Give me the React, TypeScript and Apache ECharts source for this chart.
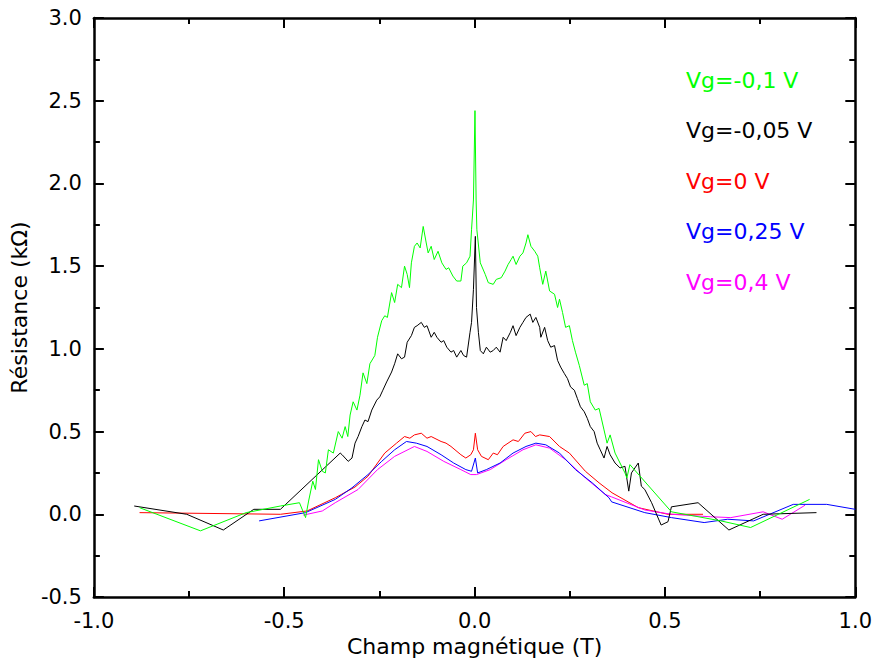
import React, { useEffect, useRef } from "react";
import * as echarts from "echarts";

// Series names and colours (legend order)
const seriesNames = ["Vg=-0,1 V", "Vg=-0,05 V", "Vg=0 V", "Vg=0,25 V", "Vg=0,4 V"];
const seriesColors = ["#00ff00", "#000000", "#ff0000", "#0000ff", "#ff00ff"];

// Axis ticks
const xTicks = [-1.0, -0.5, 0.0, 0.5, 1.0];
const yTicks = [-0.5, 0.0, 0.5, 1.0, 1.5, 2.0, 2.5, 3.0];

// Vg = -0,1 V  [B (T), R (kΩ)]
const vgM01: number[][] = [
  [-0.88, 0.04], [-0.72, -0.10], [-0.60, 0.01], [-0.51, 0.05], [-0.46, 0.07], [-0.444, -0.02],
  [-0.436, 0.08], [-0.425, 0.20], [-0.418, 0.15], [-0.41, 0.33], [-0.40, 0.26], [-0.392, 0.25],
  [-0.384, 0.39], [-0.371, 0.37], [-0.358, 0.50], [-0.348, 0.46], [-0.340, 0.53], [-0.333, 0.47],
  [-0.327, 0.60], [-0.319, 0.68], [-0.309, 0.63], [-0.301, 0.72], [-0.293, 0.855], [-0.283, 0.79],
  [-0.275, 0.91], [-0.262, 0.96], [-0.255, 1.07], [-0.244, 1.17], [-0.236, 1.20], [-0.229, 1.19],
  [-0.218, 1.34], [-0.210, 1.28], [-0.202, 1.39], [-0.192, 1.37], [-0.184, 1.50], [-0.177, 1.45],
  [-0.171, 1.37], [-0.166, 1.52], [-0.158, 1.62], [-0.151, 1.64], [-0.143, 1.61], [-0.135, 1.74],
  [-0.127, 1.64], [-0.122, 1.58], [-0.114, 1.62], [-0.106, 1.54], [-0.096, 1.59], [-0.086, 1.52],
  [-0.075, 1.48], [-0.068, 1.49], [-0.057, 1.44], [-0.047, 1.41], [-0.036, 1.41], [-0.031, 1.50],
  [-0.021, 1.52], [-0.012, 1.56], [-0.008, 1.72], [-0.003, 1.90], [0.001, 2.44], [0.004, 1.90],
  [0.006, 1.72], [0.015, 1.52], [0.028, 1.45], [0.036, 1.40], [0.049, 1.39], [0.057, 1.42],
  [0.070, 1.43], [0.080, 1.47], [0.088, 1.51], [0.096, 1.54], [0.101, 1.56], [0.109, 1.51],
  [0.119, 1.56], [0.127, 1.58], [0.135, 1.64], [0.140, 1.69], [0.148, 1.62], [0.158, 1.59],
  [0.166, 1.56], [0.171, 1.49], [0.179, 1.39], [0.187, 1.47], [0.197, 1.35], [0.210, 1.33],
  [0.218, 1.25], [0.223, 1.30], [0.231, 1.22], [0.239, 1.13], [0.249, 1.14], [0.257, 1.05],
  [0.265, 0.98], [0.275, 0.90], [0.288, 0.78], [0.296, 0.79], [0.304, 0.68], [0.317, 0.63],
  [0.327, 0.64], [0.340, 0.51], [0.348, 0.43], [0.356, 0.48], [0.369, 0.37], [0.382, 0.31],
  [0.395, 0.25], [0.400, 0.22], [0.408, 0.30], [0.517, 0.015], [0.647, -0.04], [0.725, -0.08],
  [0.88, 0.09],
];

// Vg = -0,05 V
const vgM005: number[][] = [
  [-0.894, 0.05], [-0.756, 0.0], [-0.66, -0.095], [-0.58, 0.03], [-0.51, 0.03], [-0.353, 0.37],
  [-0.348, 0.36], [-0.340, 0.34], [-0.332, 0.32], [-0.322, 0.34], [-0.314, 0.43], [-0.306, 0.47],
  [-0.296, 0.53], [-0.288, 0.57], [-0.280, 0.56], [-0.270, 0.63], [-0.257, 0.69], [-0.249, 0.71],
  [-0.241, 0.75], [-0.231, 0.80], [-0.218, 0.86], [-0.210, 0.91], [-0.202, 0.97], [-0.192, 0.94],
  [-0.184, 0.95], [-0.177, 1.04], [-0.166, 1.08], [-0.158, 1.13], [-0.151, 1.14], [-0.140, 1.16],
  [-0.132, 1.13], [-0.125, 1.14], [-0.114, 1.07], [-0.106, 1.10], [-0.099, 1.07], [-0.088, 1.04],
  [-0.081, 1.05], [-0.073, 1.01], [-0.062, 0.98], [-0.055, 0.99], [-0.047, 0.95], [-0.036, 0.99],
  [-0.029, 0.96], [-0.021, 0.95], [-0.012, 1.10], [-0.008, 1.16], [-0.003, 1.36], [0.002, 1.68],
  [0.005, 1.25], [0.010, 1.10], [0.015, 0.99], [0.023, 0.97], [0.031, 1.01], [0.041, 0.98],
  [0.049, 0.99], [0.057, 1.01], [0.067, 0.98], [0.075, 1.07], [0.083, 1.05], [0.094, 1.10],
  [0.101, 1.14], [0.109, 1.08], [0.119, 1.13], [0.127, 1.16], [0.135, 1.19], [0.146, 1.21],
  [0.153, 1.16], [0.161, 1.19], [0.171, 1.13], [0.174, 1.07], [0.184, 1.13], [0.192, 1.05],
  [0.200, 1.01], [0.210, 1.02], [0.218, 0.93], [0.226, 0.89], [0.236, 0.85], [0.244, 0.82],
  [0.252, 0.77], [0.262, 0.75], [0.270, 0.70], [0.278, 0.65], [0.288, 0.62], [0.296, 0.58],
  [0.304, 0.53], [0.314, 0.50], [0.322, 0.43], [0.330, 0.39], [0.340, 0.34], [0.348, 0.41],
  [0.356, 0.36], [0.369, 0.31], [0.382, 0.28], [0.395, 0.29], [0.405, 0.14], [0.412, 0.25],
  [0.418, 0.27], [0.430, 0.31], [0.438, 0.17], [0.447, 0.15], [0.465, 0.07], [0.490, -0.065],
  [0.508, -0.045], [0.517, 0.045], [0.587, 0.07], [0.668, -0.095], [0.758, 0.0], [0.898, 0.01],
];

// Vg = 0 V
const vg0: number[][] = [
  [-0.88, 0.01], [-0.51, 0.0], [-0.44, 0.02], [-0.366, 0.10], [-0.35, 0.12], [-0.314, 0.165],
  [-0.280, 0.23], [-0.236, 0.37], [-0.205, 0.43], [-0.184, 0.47], [-0.170, 0.46], [-0.158, 0.48],
  [-0.140, 0.49], [-0.125, 0.46], [-0.114, 0.47], [-0.088, 0.44], [-0.075, 0.43], [-0.062, 0.41],
  [-0.036, 0.36], [-0.023, 0.34], [-0.010, 0.36], [-0.003, 0.39], [0.002, 0.49], [0.008, 0.39],
  [0.018, 0.35], [0.036, 0.33], [0.049, 0.37], [0.060, 0.36], [0.075, 0.41], [0.101, 0.45],
  [0.115, 0.44], [0.132, 0.49], [0.148, 0.50], [0.160, 0.47], [0.171, 0.48], [0.197, 0.47],
  [0.223, 0.41], [0.249, 0.37], [0.291, 0.26], [0.327, 0.19], [0.361, 0.13], [0.43, 0.04],
  [0.508, 0.0], [0.60, 0.0],
];

// Vg = 0,25 V
const vg025: number[][] = [
  [-0.566, -0.04], [-0.444, 0.01], [-0.366, 0.09], [-0.322, 0.16], [-0.280, 0.24], [-0.244, 0.32],
  [-0.210, 0.39], [-0.179, 0.44], [-0.153, 0.43], [-0.125, 0.41], [-0.088, 0.36], [-0.055, 0.31],
  [-0.023, 0.27], [-0.008, 0.26], [0.002, 0.34], [0.008, 0.25], [0.031, 0.27], [0.067, 0.31],
  [0.101, 0.37], [0.135, 0.41], [0.161, 0.43], [0.187, 0.42], [0.223, 0.37], [0.265, 0.27],
  [0.309, 0.19], [0.353, 0.10], [0.36, 0.075], [0.447, 0.01], [0.517, -0.02], [0.603, -0.05],
  [0.665, -0.03], [0.733, -0.04], [0.837, 0.06], [0.925, 0.06], [1.0, 0.03],
];

// Vg = 0,4 V
const vg04: number[][] = [
  [-0.45, -0.005], [-0.40, 0.02], [-0.366, 0.07], [-0.306, 0.15], [-0.255, 0.27], [-0.210, 0.35],
  [-0.158, 0.41], [-0.125, 0.38], [-0.081, 0.32], [-0.036, 0.27], [-0.010, 0.24], [0.005, 0.24],
  [0.041, 0.27], [0.083, 0.33], [0.127, 0.39], [0.161, 0.42], [0.197, 0.40], [0.239, 0.33],
  [0.291, 0.22], [0.343, 0.12], [0.36, 0.105], [0.447, 0.026], [0.517, 0.0], [0.62, -0.015],
  [0.673, -0.02], [0.758, 0.015], [0.808, -0.03], [0.868, 0.055],
];

const seriesData = [vgM01, vgM005, vg0, vg025, vg04];
const drawOrder = [2, 4, 3, 1, 0];

const FONT = "'DejaVu Sans', 'Liberation Sans', Arial, sans-serif";

export default function App() {
  const ref = useRef<HTMLDivElement>(null);

  useEffect(() => {
    document.body.style.margin = "0";
    if (!ref.current) return;
    const chart = echarts.init(ref.current, undefined, { renderer: "svg" });

    const axisCommon = {
      axisLine: { show: true, onZero: false, lineStyle: { color: "#000", width: 2.5 } },
      axisTick: { show: true, inside: true, length: 10, lineStyle: { color: "#000", width: 2 } },
      minorTick: { show: true, splitNumber: 2, length: 6, lineStyle: { color: "#000", width: 2 } },
      splitLine: { show: false },
    };

    const fmt = (v: number) => v.toFixed(1);

    chart.setOption({
      animation: false,
      backgroundColor: "#ffffff",
      grid: { left: 86, right: 19, top: 18, bottom: 67, containLabel: false },
      legend: {
        orient: "vertical",
        left: 676,
        top: 64,
        icon: "none",
        itemWidth: 0,
        itemHeight: 14,
        itemGap: 28.5,
        selectedMode: false,
        textStyle: { fontSize: 22, fontFamily: FONT },
        data: seriesNames.map((n, i) => ({ name: n, textStyle: { color: seriesColors[i] } })),
      },
      xAxis: [
        {
          type: "value",
          min: xTicks[0],
          max: xTicks[xTicks.length - 1],
          interval: 0.5,
          position: "bottom",
          name: "Champ magnétique (T)",
          nameLocation: "middle",
          nameGap: 32,
          nameTextStyle: { fontSize: 22, color: "#000", fontFamily: FONT },
          axisLabel: { fontSize: 21, color: "#000", fontFamily: FONT, margin: 13, formatter: fmt },
          ...axisCommon,
        },
        {
          type: "value",
          min: xTicks[0],
          max: xTicks[xTicks.length - 1],
          interval: 0.5,
          position: "top",
          axisLabel: { show: false },
          ...axisCommon,
        },
      ],
      yAxis: [
        {
          type: "value",
          min: yTicks[0],
          max: yTicks[yTicks.length - 1],
          interval: 0.5,
          position: "left",
          name: "Résistance (kΩ)",
          nameLocation: "middle",
          nameGap: 50,
          nameTextStyle: { fontSize: 22, color: "#000", fontFamily: FONT },
          axisLabel: { fontSize: 21, color: "#000", fontFamily: FONT, margin: 12, formatter: fmt },
          ...axisCommon,
        },
        {
          type: "value",
          min: yTicks[0],
          max: yTicks[yTicks.length - 1],
          interval: 0.5,
          position: "right",
          axisLabel: { show: false },
          ...axisCommon,
        },
      ],
      series: drawOrder.map((i) => ({
        name: seriesNames[i],
        type: "line",
        xAxisIndex: 0,
        yAxisIndex: 0,
        data: seriesData[i],
        showSymbol: false,
        symbol: "none",
        lineStyle: { color: seriesColors[i], width: 1 },
        itemStyle: { color: seriesColors[i] },
        silent: true,
      })),
    });

    return () => chart.dispose();
  }, []);

  return <div ref={ref} style={{ width: 875, height: 664 }} />;
}
